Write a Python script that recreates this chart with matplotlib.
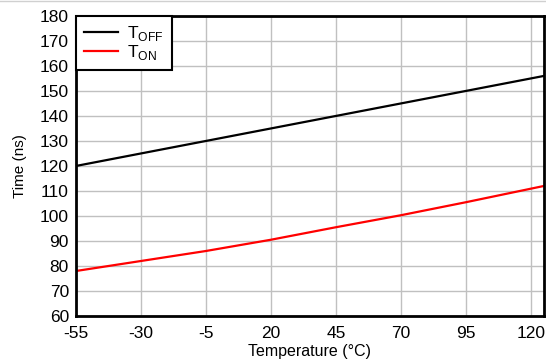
import matplotlib.pyplot as plt
from matplotlib.lines import Line2D

plt.rcParams['font.family'] = ['Liberation Sans', 'DejaVu Sans']
plt.rcParams['axes.unicode_minus'] = False

temps = [-55, -30, -5, 20, 45, 70, 95, 125]
t_off = [120, 125, 130, 135, 140, 145, 150, 156]
t_on = [78, 82, 86, 90.5, 95.5, 100.3, 105.5, 112]

x_ticks = [-55, -30, -5, 20, 45, 70, 95, 120]
y_ticks = list(range(60, 181, 10))

fig = plt.figure(figsize=(5.46, 3.62), dpi=100)
ax = fig.add_axes([0.139, 0.127, 0.857, 0.829])

ax.plot(temps, t_off, color='black', lw=1.6, label=r'T$_\mathregular{OFF}$')
ax.plot(temps, t_on, color='#ff0000', lw=1.6, label=r'T$_\mathregular{ON}$')

ax.set_xlim(-55, 125)
ax.set_ylim(60, 180)
ax.set_xticks(x_ticks)
ax.set_yticks(y_ticks)
ax.tick_params(labelsize=12.5, length=0)
ax.tick_params(axis='x', pad=7)
ax.tick_params(axis='y', pad=5)
ax.grid(True, color='#c0c0c0', lw=1)
ax.set_axisbelow(True)
for sp in ax.spines.values():
    sp.set_linewidth(2)
    sp.set_color('black')

ax.set_xlabel('Temperature (°C)', fontsize=11.5, labelpad=2)
ax.set_ylabel('Time (ns)', fontsize=11, labelpad=9)

leg = ax.legend(loc='upper left', fontsize=12.5, frameon=True, fancybox=False,
                borderaxespad=0, handlelength=2.0, handletextpad=0.5,
                labelspacing=0.0, borderpad=0.45)
leg.get_frame().set_edgecolor('black')
leg.get_frame().set_linewidth(1.5)
leg.get_frame().set_alpha(1)

fig.add_artist(Line2D([0, 1], [0.998, 0.998], transform=fig.transFigure,
                      color='#d0d0d0', lw=1))

fig.savefig('out.png', dpi=100)
